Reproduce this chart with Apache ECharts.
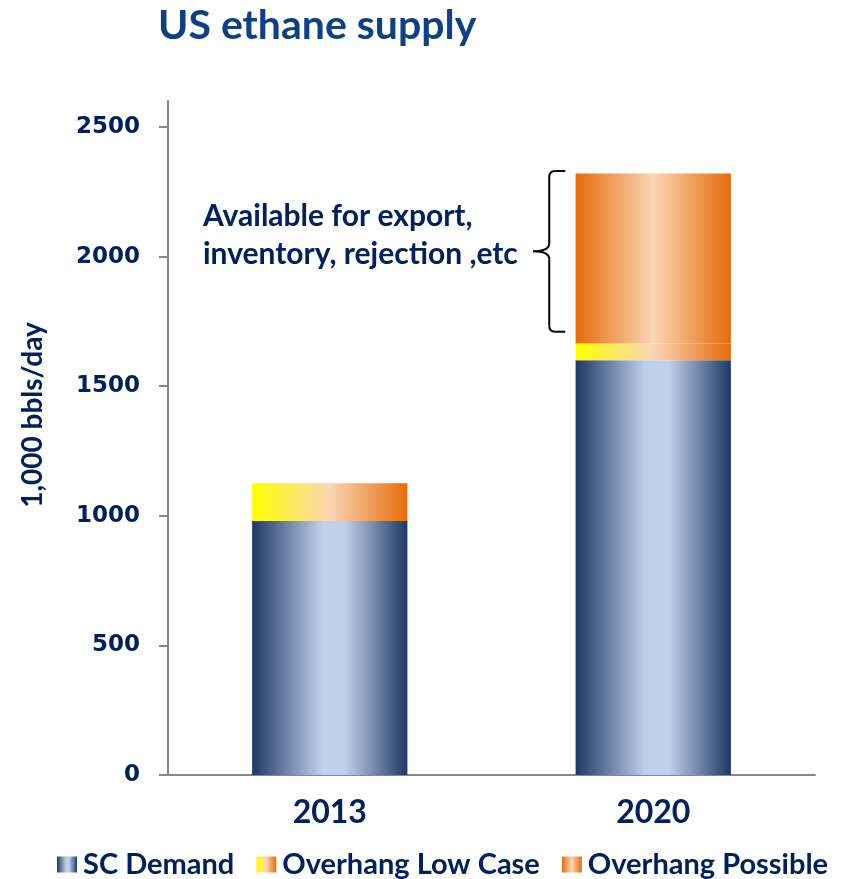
<!DOCTYPE html>
<html>
<head>
<meta charset="utf-8">
<script src="https://cdn.jsdelivr.net/npm/echarts@6/dist/echarts.min.js"></script>
<style>
  html, body { margin: 0; padding: 0; background: #fff; }
  #chart { width: 842px; height: 879px; }
</style>
</head>
<body>
<div id="chart"></div>
<script>
// Categories and stacked series values (1,000 bbls/day)
const years = ['2013', '2020'];
const scDemand = [980, 1600];
const overhangLow = [145, 65];
const overhangPossible = [0, 655];
const yTicks = [0, 500, 1000, 1500, 2000, 2500];

const navy = '#002060';
const textFont = 'Lato, "Noto Sans", sans-serif';

function hGrad(stops) {
  return new echarts.graphic.LinearGradient(0, 0, 1, 0,
    stops.map(s => ({ offset: s[0], color: s[1] })));
}

const demandColor = hGrad([[0, '#1f3864'], [0.45, '#c0cfea'], [0.6, '#c0cfea'], [1, '#1f3864']]);
const lowColor = hGrad([[0, '#ffff00'], [0.5, '#fbd5b5'], [1, '#e46c0a']]);
const possibleColor = hGrad([[0, '#e46c0a'], [0.5, '#fbd5b5'], [1, '#e46c0a']]);

const chart = echarts.init(document.getElementById('chart'));

const option = {
  animation: false,
  title: {
    text: 'US ethane supply',
    left: 153, top: 0,
    textStyle: { fontFamily: textFont, fontWeight: 'bold', fontSize: 41, color: '#0f3f86' }
  },
  grid: { left: 168, right: 27, top: 101, bottom: 104 },
  legend: {
    bottom: -5,
    left: 52,
    icon: 'rect',
    itemWidth: 20, itemHeight: 16, itemGap: 22,
    textStyle: { fontFamily: textFont, fontWeight: 'bold', fontSize: 29, color: navy, padding: [0, 0, 0, 1] },
    data: ['SC Demand', 'Overhang Low Case', 'Overhang Possible']
  },
  xAxis: {
    type: 'category',
    data: years,
    axisLine: { lineStyle: { color: '#888', width: 2 } },
    axisTick: { length: 8, lineStyle: { color: '#888', width: 2 } },
    axisLabel: { fontFamily: textFont, fontWeight: 'bold', fontSize: 32, color: navy, margin: 22 }
  },
  yAxis: {
    type: 'value',
    min: 0, max: 2600,
    splitLine: { show: false },
    axisLine: { show: true, lineStyle: { color: '#888', width: 2 } },
    axisTick: { show: true, length: 9, customValues: yTicks, lineStyle: { color: '#888', width: 2 } },
    axisLabel: {
      customValues: yTicks,
      formatter: v => String(v),
      fontFamily: '"DejaVu Sans", sans-serif', fontWeight: 'bold', fontSize: 23, color: navy, margin: 28
    }
  },
  series: [
    { name: 'SC Demand', type: 'bar', stack: 's', barWidth: '48%', data: scDemand, itemStyle: { color: demandColor } },
    { name: 'Overhang Low Case', type: 'bar', stack: 's', data: overhangLow, itemStyle: { color: lowColor } },
    { name: 'Overhang Possible', type: 'bar', stack: 's', data: overhangPossible, itemStyle: { color: possibleColor } }
  ]
};
chart.setOption(option);

// Brace marking the possible overhang on the 2020 bar, with its note
const top2020 = scDemand[1] + overhangLow[1] + overhangPossible[1];
const pTop = chart.convertToPixel({ seriesIndex: 0 }, [1, top2020 + 10]);
const pBot = chart.convertToPixel({ seriesIndex: 0 }, [1, scDemand[1] + overhangLow[1] + 45]);
const barHalf = 77;
const xr = pTop[0] - barHalf - 11;
const yt = pTop[1], yb = pBot[1], ym = (yt + yb) / 2;
const xv = xr - 16, xp = xr - 32;
const braceStyle = { fill: null, stroke: '#000', lineWidth: 2 };
const seg = (x1, y1, x2, y2) => ({ type: 'line', shape: { x1, y1, x2, y2 }, style: braceStyle });
const curve = (x1, y1, cx, cy, x2, y2) => ({
  type: 'bezierCurve', shape: { x1, y1, cpx1: cx, cpy1: cy, x2, y2 }, style: braceStyle
});

chart.setOption({
  graphic: [
    seg(xr, yt, xv + 6, yt),
    curve(xv + 6, yt, xv, yt, xv, yt + 6),
    seg(xv, yt + 6, xv, ym - 8),
    curve(xv, ym - 8, xv, ym, xp, ym),
    curve(xp, ym, xv, ym, xv, ym + 8),
    seg(xv, ym + 8, xv, yb - 6),
    curve(xv, yb - 6, xv, yb, xv + 6, yb),
    seg(xv + 6, yb, xr, yb),
    {
      type: 'text', left: 203, top: 197,
      style: {
        text: 'Available for export,\ninventory, rejection ,etc',
        fontFamily: textFont, fontWeight: 'bold', fontSize: 30, lineHeight: 38, fill: navy
      }
    },
    // Value-axis title
    {
      type: 'text', x: 33, y: 415, rotation: Math.PI / 2,
      style: {
        text: '1,000 bbls/day', align: 'center', verticalAlign: 'middle',
        fontFamily: textFont, fontWeight: 'bold', fontSize: 28, fill: navy
      }
    }
  ]
});
</script>
</body>
</html>
